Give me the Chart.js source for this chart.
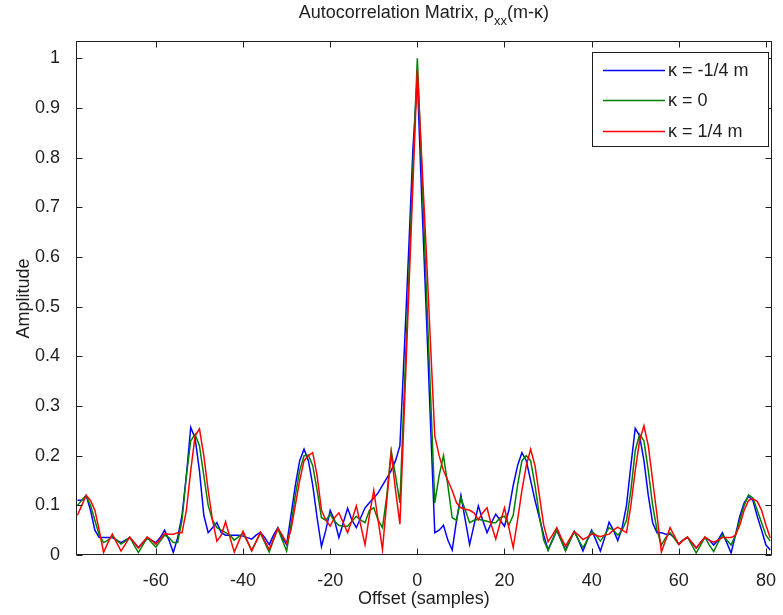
<!DOCTYPE html>
<html>
<head>
<meta charset="utf-8">
<title>Autocorrelation Matrix</title>
<script src="https://cdn.jsdelivr.net/npm/chart.js@4.4.1/dist/chart.umd.min.js"></script>
<style>
  html,
  body {
    margin: 0;
    padding: 0;
    background: #fff;
  }
  #wrap {
    width: 783px;
    height: 615px;
  }
</style>
</head>
<body>
<div id="wrap"><canvas id="chart" width="783" height="615"></canvas></div>
<script>
// lag axis (samples)
const offsets = [
  -78, -77, -76, -75, -74, -73, -72, -71, -70, -69,
  -68, -67, -66, -65, -64, -63, -62, -61, -60, -59,
  -58, -57, -56, -55, -54, -53, -52, -51, -50, -49,
  -48, -47, -46, -45, -44, -43, -42, -41, -40, -39,
  -38, -37, -36, -35, -34, -33, -32, -31, -30, -29,
  -28, -27, -26, -25, -24, -23, -22, -21, -20, -19,
  -18, -17, -16, -15, -14, -13, -12, -11, -10, -9,
  -8, -7, -6, -5, -4, -3, -2, -1, 0, 1,
  2, 3, 4, 5, 6, 7, 8, 9, 10, 11,
  12, 13, 14, 15, 16, 17, 18, 19, 20, 21,
  22, 23, 24, 25, 26, 27, 28, 29, 30, 31,
  32, 33, 34, 35, 36, 37, 38, 39, 40, 41,
  42, 43, 44, 45, 46, 47, 48, 49, 50, 51,
  52, 53, 54, 55, 56, 57, 58, 59, 60, 61,
  62, 63, 64, 65, 66, 67, 68, 69, 70, 71,
  72, 73, 74, 75, 76, 77, 78, 79, 80, 81,
];

// kappa = -1/4 m
const rhoMinus = [
  0.11, 0.11, 0.12, 0.09, 0.05, 0.035, 0.035, 0.035, 0.035, 0.03,
  0.025, 0.03, 0.035, 0.025, 0.015, 0.025, 0.033, 0.03, 0.025, 0.035,
  0.05, 0.03, 0.005, 0.035, 0.08, 0.16, 0.257, 0.235, 0.17, 0.08,
  0.045, 0.055, 0.065, 0.045, 0.04, 0.04, 0.04, 0.04, 0.038, 0.035,
  0.032, 0.04, 0.046, 0.035, 0.021, 0.04, 0.055, 0.035, 0.021, 0.08,
  0.14, 0.19, 0.213, 0.19, 0.14, 0.075, 0.017, 0.05, 0.09, 0.07,
  0.035, 0.065, 0.094, 0.07, 0.055, 0.075, 0.095, 0.105, 0.115, 0.125,
  0.14, 0.155, 0.17, 0.19, 0.22, 0.41, 0.61, 0.82, 0.96, 0.72,
  0.5, 0.27, 0.045, 0.05, 0.06, 0.03, 0.01, 0.07, 0.12, 0.07,
  0.021, 0.06, 0.099, 0.07, 0.045, 0.065, 0.082, 0.07, 0.058, 0.09,
  0.14, 0.18, 0.206, 0.19, 0.15, 0.11, 0.075, 0.04, 0.01, 0.03,
  0.05, 0.03, 0.01, 0.03, 0.048, 0.03, 0.008, 0.03, 0.05, 0.03,
  0.008, 0.035, 0.066, 0.05, 0.029, 0.055, 0.1, 0.18, 0.255, 0.24,
  0.19, 0.12, 0.065, 0.045, 0.045, 0.042, 0.042, 0.035, 0.022, 0.03,
  0.035, 0.025, 0.014, 0.025, 0.035, 0.03, 0.02, 0.03, 0.045, 0.025,
  0.004, 0.04, 0.078, 0.105, 0.118, 0.11, 0.078, 0.05, 0.02, 0.01,
];

// kappa = 0
const rhoZero = [
  0.1, 0.11, 0.12, 0.1, 0.07, 0.04, 0.025, 0.03, 0.037, 0.03,
  0.022, 0.028, 0.036, 0.02, 0.005, 0.02, 0.035, 0.025, 0.016, 0.028,
  0.04, 0.035, 0.025, 0.025, 0.07, 0.16, 0.23, 0.243, 0.22, 0.16,
  0.1, 0.07, 0.055, 0.05, 0.045, 0.04, 0.03, 0.037, 0.044, 0.027,
  0.01, 0.027, 0.044, 0.025, 0.006, 0.03, 0.053, 0.03, 0.008, 0.06,
  0.12, 0.17, 0.2, 0.201, 0.18, 0.13, 0.075, 0.07, 0.082, 0.068,
  0.06, 0.058, 0.058, 0.068, 0.078, 0.07, 0.065, 0.09, 0.095, 0.07,
  0.055, 0.12, 0.21, 0.16, 0.105, 0.33, 0.55, 0.78, 1.0, 0.78,
  0.55, 0.33, 0.105, 0.16, 0.2, 0.14, 0.075, 0.07, 0.115, 0.09,
  0.065, 0.07, 0.072, 0.07, 0.068, 0.065, 0.065, 0.075, 0.078, 0.06,
  0.08, 0.14, 0.19, 0.2, 0.19, 0.14, 0.08, 0.03, 0.01, 0.03,
  0.05, 0.03, 0.008, 0.028, 0.047, 0.03, 0.015, 0.03, 0.047, 0.04,
  0.028, 0.04, 0.055, 0.05, 0.04, 0.05, 0.07, 0.13, 0.21, 0.243,
  0.23, 0.17, 0.1, 0.05, 0.02, 0.035, 0.045, 0.033, 0.021, 0.03,
  0.036, 0.02, 0.004, 0.02, 0.036, 0.02, 0.007, 0.025, 0.04, 0.03,
  0.02, 0.04, 0.07, 0.1, 0.121, 0.115, 0.09, 0.065, 0.04, 0.028,
];

// kappa = 1/4 m
const rhoPlus = [
  0.08, 0.1, 0.12, 0.11, 0.09, 0.05, 0.005, 0.025, 0.042, 0.025,
  0.008, 0.022, 0.036, 0.025, 0.014, 0.025, 0.036, 0.03, 0.022, 0.032,
  0.043, 0.042, 0.042, 0.045, 0.045, 0.09, 0.17, 0.24, 0.254, 0.2,
  0.13, 0.07, 0.028, 0.04, 0.067, 0.035, 0.006, 0.027, 0.048, 0.028,
  0.008, 0.027, 0.046, 0.028, 0.011, 0.032, 0.054, 0.04, 0.024, 0.05,
  0.1, 0.15, 0.19, 0.2, 0.206, 0.16, 0.09, 0.07, 0.058, 0.075,
  0.085, 0.065, 0.045, 0.07, 0.099, 0.06, 0.021, 0.08, 0.13, 0.07,
  0.011, 0.11, 0.206, 0.13, 0.062, 0.29, 0.52, 0.75, 0.977, 0.8,
  0.62, 0.43, 0.24, 0.2, 0.17, 0.15, 0.13, 0.105, 0.095, 0.092,
  0.09, 0.085, 0.071, 0.085, 0.095, 0.06, 0.032, 0.065, 0.095, 0.055,
  0.015, 0.07, 0.13, 0.18, 0.213, 0.18, 0.12, 0.06, 0.027, 0.04,
  0.055, 0.035, 0.018, 0.033, 0.047, 0.04, 0.031, 0.036, 0.042, 0.04,
  0.037, 0.04, 0.042, 0.05, 0.056, 0.05, 0.045, 0.1, 0.17, 0.23,
  0.26, 0.22, 0.15, 0.08, 0.006, 0.03, 0.055, 0.038, 0.021, 0.03,
  0.036, 0.025, 0.014, 0.025, 0.036, 0.03, 0.026, 0.03, 0.035, 0.035,
  0.035, 0.04, 0.06, 0.09, 0.11, 0.113, 0.108, 0.09, 0.06, 0.034,
];

const legendLabels = ["\u03ba = -1/4 m", "\u03ba = 0", "\u03ba = 1/4 m"];
const lineColors = ["#0000ff", "#008000", "#ff0000"];
const xTicks = [-60, -40, -20, 0, 20, 40, 60, 80];
const xTickLabels = ["-60", "-40", "-20", "0", "20", "40", "60", "80"];
const yTicks = [0, 0.1, 0.2, 0.3, 0.4, 0.5, 0.6, 0.7, 0.8, 0.9, 1];
const yTickLabels = ["0", "0.1", "0.2", "0.3", "0.4", "0.5", "0.6", "0.7", "0.8", "0.9", "1"];

const FONT = "'Liberation Sans', Arial, Helvetica, sans-serif";
const INK = "#1e1e1e";
const LINE_W = 1.5;

function toPoints(values) {
  return values.map((v, i) => ({ x: offsets[i], y: v }));
}

function makeDataset(label, values, color, order) {
  return {
    label: label,
    data: toPoints(values),
    borderColor: color,
    backgroundColor: color,
    borderWidth: LINE_W,
    pointRadius: 0,
    tension: 0,
    fill: false,
    order: order,
  };
}

// matlab style box: frame, inward ticks on all four sides, title, labels, legend
const matlabFrame = {
  id: "matlabFrame",
  afterDatasetsDraw(chart) {
    const ctx = chart.ctx;
    const a = chart.chartArea;
    const xs = chart.scales.x;
    const ys = chart.scales.y;
    const L = Math.round(a.left) - 0.5;
    const R = Math.round(a.right) + 0.5;
    const T = Math.round(a.top) - 0.5;
    const B = Math.round(a.bottom) - 0.5;
    const tick = 6;

    ctx.save();
    ctx.strokeStyle = INK;
    ctx.lineWidth = 1;
    ctx.strokeRect(L, T, R - L, B - T);

    ctx.beginPath();
    xTicks.forEach((v) => {
      const px = Math.round(xs.getPixelForValue(v)) + 0.5;
      ctx.moveTo(px, B);
      ctx.lineTo(px, B - tick);
      ctx.moveTo(px, T);
      ctx.lineTo(px, T + tick);
    });
    yTicks.forEach((v) => {
      const py = Math.round(ys.getPixelForValue(v)) + 0.5;
      ctx.moveTo(L, py);
      ctx.lineTo(L + tick, py);
      ctx.moveTo(R, py);
      ctx.lineTo(R - tick, py);
    });
    ctx.stroke();

    // title with subscript
    ctx.fillStyle = INK;
    ctx.textBaseline = "alphabetic";
    ctx.textAlign = "left";
    const main = "Autocorrelation Matrix, \u03c1";
    const sub = "xx";
    const tail = "(m-\u03ba)";
    ctx.font = "18px " + FONT;
    const w1 = ctx.measureText(main).width;
    const w3 = ctx.measureText(tail).width;
    ctx.font = "13px " + FONT;
    const w2 = ctx.measureText(sub).width;
    let tx = (a.left + a.right) / 2 - (w1 + w2 + w3) / 2;
    ctx.font = "18px " + FONT;
    ctx.fillText(main, tx, 18);
    ctx.font = "13px " + FONT;
    ctx.fillText(sub, tx + w1, 25);
    ctx.font = "18px " + FONT;
    ctx.fillText(tail, tx + w1 + w2, 18);

    // axis labels
    ctx.textAlign = "center";
    ctx.textBaseline = "middle";
    ctx.fillText("Offset (samples)", (a.left + a.right) / 2, 599);
    ctx.save();
    ctx.translate(24, (a.top + a.bottom) / 2);
    ctx.rotate(-Math.PI / 2);
    ctx.fillText("Amplitude", 0, 0);
    ctx.restore();

    // legend box
    const box = { x: 592.5, y: 52.5, w: 176, h: 94 };
    ctx.fillStyle = "#fff";
    ctx.fillRect(box.x, box.y, box.w, box.h);
    ctx.strokeStyle = INK;
    ctx.strokeRect(box.x, box.y, box.w, box.h);
    const rows = [70, 100, 131];
    ctx.textAlign = "left";
    ctx.font = "18px " + FONT;
    legendLabels.forEach((label, i) => {
      ctx.strokeStyle = lineColors[i];
      ctx.lineWidth = LINE_W;
      ctx.beginPath();
      ctx.moveTo(603, rows[i] + 0.5);
      ctx.lineTo(665, rows[i] + 0.5);
      ctx.stroke();
      ctx.fillStyle = INK;
      ctx.fillText(label, 668, rows[i] + 1);
    });
    ctx.restore();
  },
};

const chart = new Chart(document.querySelector("#chart"), {
  type: "line",
  data: {
    datasets: [
      makeDataset(legendLabels[0], rhoMinus, lineColors[0], 3),
      makeDataset(legendLabels[1], rhoZero, lineColors[1], 2),
      makeDataset(legendLabels[2], rhoPlus, lineColors[2], 1),
    ],
  },
  options: {
    responsive: false,
    animation: false,
    devicePixelRatio: 1,
    layout: {
      padding: { left: 0, right: 5, top: 42, bottom: 0 },
    },
    plugins: {
      legend: { display: false },
      title: { display: false },
      tooltip: { enabled: false },
    },
    scales: {
      x: {
        type: "linear",
        min: -78.1,
        max: 81.1,
        grid: { display: false },
        border: { display: false },
        afterBuildTicks: (scale) => {
          scale.ticks = xTicks.map((v) => ({ value: v }));
        },
        afterFit: (scale) => {
          scale.height = 60;
        },
        ticks: {
          padding: 7,
          maxRotation: 0,
          autoSkip: false,
          color: INK,
          font: { family: FONT, size: 18 },
          callback: (value, index) => xTickLabels[index],
        },
      },
      y: {
        type: "linear",
        min: 0,
        max: 1.033,
        grid: { display: false },
        border: { display: false },
        afterBuildTicks: (scale) => {
          scale.ticks = yTicks.map((v) => ({ value: v }));
        },
        afterFit: (scale) => {
          scale.width = 77;
        },
        ticks: {
          padding: 9,
          autoSkip: false,
          color: INK,
          font: { family: FONT, size: 18 },
          callback: (value, index) => yTickLabels[index],
        },
      },
    },
  },
  plugins: [matlabFrame],
});
</script>
</body>
</html>
